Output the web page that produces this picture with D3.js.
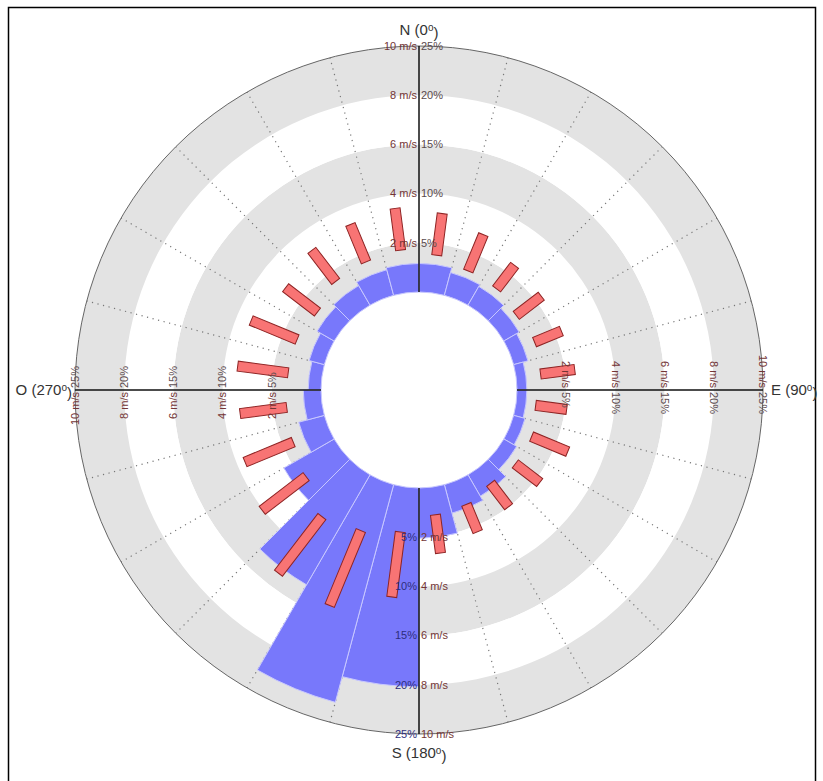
<!DOCTYPE html>
<html>
<head>
<meta charset="utf-8">
<script src="https://cdn.jsdelivr.net/npm/d3@7"></script>
<style>
  html, body { margin: 0; padding: 0; background: #fff; }
  svg { display: block; font-family: "Liberation Sans", Arial, sans-serif; }
</style>
</head>
<body>
<svg id="chart" width="823" height="781"></svg>
<script>
// Wind direction sectors (centre bearing, degrees clockwise from north), 15° wide
const bearings = [7.5, 22.5, 37.5, 52.5, 67.5, 82.5, 97.5, 112.5, 127.5, 142.5, 157.5, 172.5,
                  187.5, 202.5, 217.5, 232.5, 247.5, 262.5, 277.5, 292.5, 307.5, 322.5, 337.5, 352.5];
// Frequency of each direction sector (%)
const frequency = [2.9, 2.4, 2.2, 1.8, 1.5, 1.0, 1.0, 1.2, 1.5, 2.5, 3.0, 5.1,
                   20.2, 22.9, 12.9, 5.9, 2.7, 1.8, 1.3, 1.6, 2.0, 2.3, 2.7, 2.9];
// Wind speed range for each sector (m/s): lower and upper end
const speedLow  = [1.54, 1.25, 1.2, 1.0, 1.1, 1.0, 0.8, 0.97, 0.95, 0.8, 1.05, 1.13,
                   1.84, 2.2, 2.5, 1.8, 1.55, 1.44, 1.38, 1.38, 1.22, 1.58, 1.65, 1.75];
const speedHigh = [3.25, 2.85, 2.4, 2.28, 2.28, 2.4, 2.07, 2.56, 2.2, 2.0, 2.25, 2.7,
                   4.5, 5.5, 5.4, 4.05, 3.67, 3.35, 3.45, 3.4, 2.85, 3.17, 3.3, 3.46];
// Radial ticks
const pctTicks = [5, 10, 15, 20, 25];
const msTicks  = [2, 4, 6, 8, 10];
// Compass labels
const compass = [
  {name: "N", deg: "0"},
  {name: "E", deg: "90"},
  {name: "S", deg: "180"},
  {name: "O", deg: "270"}
];

const svg = d3.select("#chart");
const cx = 419, cy = 390;
const sectorWidth = 15;

const rPct = d3.scaleLinear().domain([0, 25]).range([98, 344]);
const rMs  = d3.scaleLinear().domain([0, 10]).range([98, 344]);
const rad = d => d * Math.PI / 180;

// outer frame
svg.append("rect").attr("x", 8.5).attr("y", 7.5).attr("width", 807).attr("height", 790)
  .attr("fill", "none").attr("stroke", "#000").attr("stroke-width", 1.5);

const g = svg.append("g").attr("transform", `translate(${cx},${cy})`);

// alternating grey / white rings
const bandEdges = [0].concat(pctTicks);
const band = d3.arc();
g.selectAll("path.band")
  .data(d3.range(bandEdges.length - 1))
  .join("path")
  .attr("class", "band")
  .attr("d", i => band({innerRadius: rPct(bandEdges[i]), outerRadius: rPct(bandEdges[i + 1]),
                        startAngle: 0, endAngle: 2 * Math.PI}))
  .attr("fill", i => i % 2 === 0 ? "#e3e3e3" : "#ffffff");

// dotted radial lines at sector boundaries
const spokes = d3.range(0, 360, sectorWidth).filter(a => a % 90 !== 0);
g.selectAll("line.spoke")
  .data(spokes)
  .join("line")
  .attr("class", "spoke")
  .attr("x1", a => rPct(0) * Math.sin(rad(a)))
  .attr("y1", a => -rPct(0) * Math.cos(rad(a)))
  .attr("x2", a => rPct(25) * Math.sin(rad(a)))
  .attr("y2", a => -rPct(25) * Math.cos(rad(a)))
  .attr("stroke", "#777")
  .attr("stroke-width", 1.2)
  .attr("stroke-dasharray", "1.2,4.5");

// outer circle
g.append("circle").attr("r", rPct(25)).attr("fill", "none")
  .attr("stroke", "#666").attr("stroke-width", 1);

// frequency sectors
const sectorArc = d3.arc();
g.selectAll("path.freq")
  .data(bearings.map((b, i) => ({b, v: frequency[i]})))
  .join("path")
  .attr("class", "freq")
  .attr("d", d => sectorArc({innerRadius: rPct(0), outerRadius: rPct(d.v),
                             startAngle: rad(d.b - sectorWidth / 2),
                             endAngle: rad(d.b + sectorWidth / 2)}))
  .attr("fill", "#7878fb")
  .attr("stroke", "#c8c8ff")
  .attr("stroke-width", 1);

// speed range bars
const barW = 10;
g.selectAll("rect.speed")
  .data(bearings.map((b, i) => ({b, lo: speedLow[i], hi: speedHigh[i]})))
  .join("rect")
  .attr("class", "speed")
  .attr("transform", d => `rotate(${d.b})`)
  .attr("x", -barW / 2)
  .attr("width", barW)
  .attr("y", d => -rMs(d.hi))
  .attr("height", d => rMs(d.hi) - rMs(d.lo))
  .attr("fill", "#f87474")
  .attr("stroke", "#8e2424")
  .attr("stroke-width", 1);

// cardinal axes
[0, 90, 180, 270].forEach(a => {
  g.append("line")
    .attr("x1", rPct(0) * Math.sin(rad(a)))
    .attr("y1", -rPct(0) * Math.cos(rad(a)))
    .attr("x2", rPct(25) * Math.sin(rad(a)))
    .attr("y2", -rPct(25) * Math.cos(rad(a)))
    .attr("stroke", "#111").attr("stroke-width", 1.5);
});

// tick labels on each axis
const msColor = "#733535", pctColor = "#5b4b4e", pctColorS = "#2d2d7c";
const fs = 11;
pctTicks.forEach((p, i) => {
  const r = rPct(p);
  const ms = msTicks[i] + " m/s", pc = p + "%";
  // north: m/s left, % right
  g.append("text").attr("x", -2).attr("y", -r).attr("dy", "0.35em")
    .attr("text-anchor", "end").attr("font-size", fs).attr("fill", msColor).text(ms);
  g.append("text").attr("x", 2).attr("y", -r).attr("dy", "0.35em")
    .attr("text-anchor", "start").attr("font-size", fs).attr("fill", pctColor).text(pc);
  // south: % left, m/s right
  g.append("text").attr("x", -2).attr("y", r).attr("dy", "0.35em")
    .attr("text-anchor", "end").attr("font-size", fs).attr("fill", pctColorS).text(pc);
  g.append("text").attr("x", 2).attr("y", r).attr("dy", "0.35em")
    .attr("text-anchor", "start").attr("font-size", fs).attr("fill", msColor).text(ms);
  // east: rotated, m/s above, % below
  const ge = g.append("g").attr("transform", `translate(${r},0) rotate(90)`);
  ge.append("text").attr("x", -2).attr("dy", "0.35em").attr("text-anchor", "end")
    .attr("font-size", fs).attr("fill", msColor).text(ms);
  ge.append("text").attr("x", 2).attr("dy", "0.35em").attr("text-anchor", "start")
    .attr("font-size", fs).attr("fill", pctColor).text(pc);
  // west: rotated, % above, m/s below
  const gw = g.append("g").attr("transform", `translate(${-r},0) rotate(-90)`);
  gw.append("text").attr("x", -2).attr("dy", "0.35em").attr("text-anchor", "end")
    .attr("font-size", fs).attr("fill", msColor).text(ms);
  gw.append("text").attr("x", 2).attr("dy", "0.35em").attr("text-anchor", "start")
    .attr("font-size", fs).attr("fill", pctColor).text(pc);
});

// compass labels with degree superscript
function compassLabel(c, x, y, anchor) {
  const t = g.append("text").attr("x", x).attr("y", y).attr("dy", "0.35em")
    .attr("text-anchor", anchor).attr("font-size", 15).attr("fill", "#333");
  t.append("tspan").text(`${c.name} (${c.deg}`);
  t.append("tspan").attr("dy", "-0.45em").attr("font-size", 10).text("o");
  t.append("tspan").attr("dy", "0.45em").text(")");
}
const R = rPct(25);
compassLabel(compass[0], 0, -R - 16, "middle");
compassLabel(compass[1], R + 8, 0, "start");
compassLabel(compass[2], 0, R + 19, "middle");
compassLabel(compass[3], -R - 3, 0, "end");
</script>
</body>
</html>
